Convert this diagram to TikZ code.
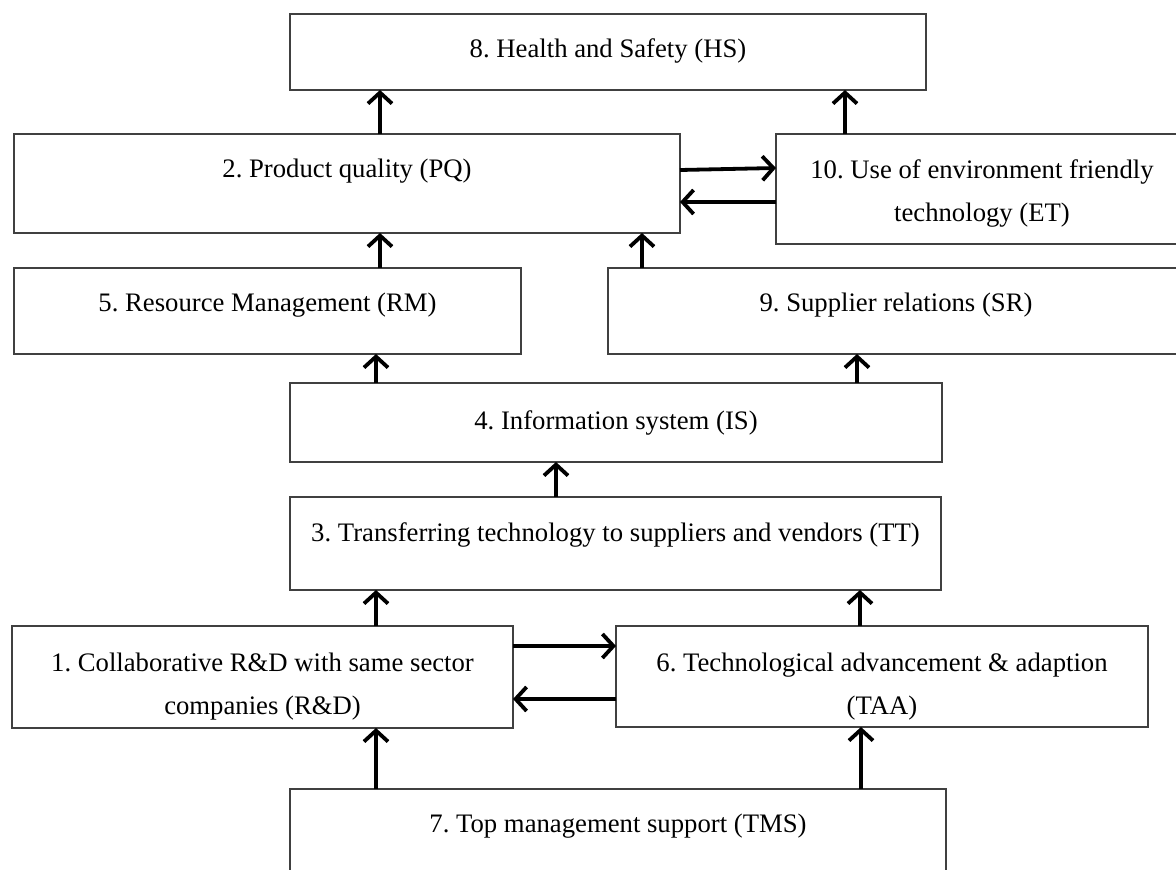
\documentclass[tikz,border=0pt]{standalone}
\usepackage{fontspec}
\setmainfont{Liberation Serif}
\frenchspacing
\usetikzlibrary{arrows.meta}

\begin{document}
\begin{tikzpicture}[x=1pt, y=-1pt, >={Straight Barb[length=11pt,width=24pt]}]
   \useasboundingbox (0,0) rectangle (1176,870);
   \clip (0,0) rectangle (1176,870);
   \begin{scope}[every node/.style={draw=black!75, line width=1.4pt, anchor=north west, inner sep=0pt, outer sep=0pt, align=center, font=\fontsize{26.7}{43}\selectfont}]
    \node[minimum width=636pt, text height=43pt, text depth=33pt] (hs) at (290,14) {8. Health and Safety (HS)};
    \node[minimum width=666pt, text height=43pt, text depth=56pt] (pq) at (14,134) {2. Product quality (PQ)};
    \node[minimum width=412pt, text height=87pt, text depth=23pt] (et) at (776,134) {10. Use of environment friendly\\technology (ET)};
    \node[minimum width=507pt, text height=43pt, text depth=43pt] (rm) at (14,268) {5. Resource Management (RM)};
    \node[minimum width=576pt, text height=43pt, text depth=43pt] (sr) at (608,268) {9. Supplier relations (SR)};
    \node[minimum width=652pt, text height=46pt, text depth=33pt] (is) at (290,383) {4. Information system (IS)};
    \node[minimum width=651pt, text height=44pt, text depth=49pt] (tt) at (290,497) {3. Transferring technology to suppliers and vendors (TT)};
    \node[minimum width=501pt, text height=88pt, text depth=14pt] (rd) at (12,626) {1. Collaborative R\&D with same sector\\companies (R\&D)};
    \node[minimum width=532pt, text height=88pt, text depth=13pt] (taa) at (616,626) {6. Technological advancement \& adaption\\(TAA)};
    \node[minimum width=656pt, text height=43pt, text depth=67pt] (tms) at (290,789) {7. Top management support (TMS)};
   \end{scope}
   \begin{scope}[every edge/.style={draw=black, line width=3.8pt, ->}]
    \draw (pq.north -| 380,0) edge (hs.south -| 380,0);
    \draw (et.north -| 845,0) edge (hs.south -| 845,0);
    \draw (pq.east |- 0,170) edge (et.west |- 0,168);
    \draw (et.west |- 0,202) edge (pq.east |- 0,202);
    \draw (rm.north -| 380,0) edge (pq.south -| 380,0);
    \draw (sr.north -| 642,0) edge (pq.south -| 642,0);
    \draw (is.north -| 376,0) edge (rm.south -| 376,0);
    \draw (is.north -| 857,0) edge (sr.south -| 857,0);
    \draw (tt.north -| 556,0) edge (is.south -| 556,0);
    \draw (rd.north -| 376,0) edge (tt.south -| 376,0);
    \draw (taa.north -| 860,0) edge (tt.south -| 860,0);
    \draw (rd.east |- 0,646) edge (taa.west |- 0,646);
    \draw (taa.west |- 0,699) edge (rd.east |- 0,699);
    \draw (tms.north -| 376,0) edge (rd.south -| 376,0);
    \draw (tms.north -| 861,0) edge (taa.south -| 861,0);
   \end{scope}
\end{tikzpicture}
\end{document}
